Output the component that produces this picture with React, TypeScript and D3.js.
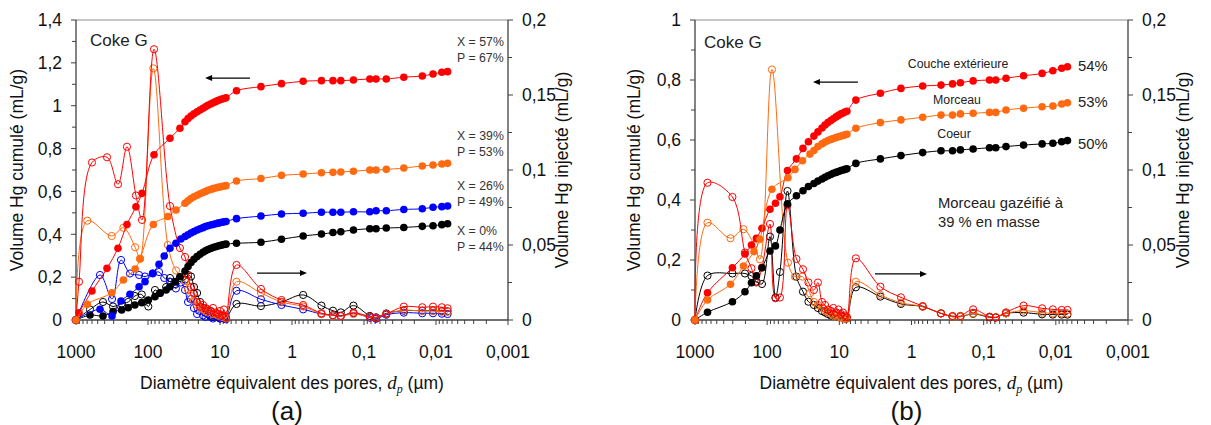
import React from 'react';
import * as d3 from 'd3';

const FONT = 'Arial, "Liberation Sans", Helvetica, sans-serif';
const SERIF = '"Times New Roman", "Liberation Serif", serif';

// ---------- axis ticks ----------
const xTickValues = [1000, 100, 10, 1, 0.1, 0.01, 0.001];
const xTickLabels = ['1000', '100', '10', '1', '0,1', '0,01', '0,001'];
const leftTicksA = [0, 0.2, 0.4, 0.6, 0.8, 1, 1.2, 1.4];
const leftLabelsA = ['0', '0,2', '0,4', '0,6', '0,8', '1', '1,2', '1,4'];
const leftTicksB = [0, 0.2, 0.4, 0.6, 0.8, 1];
const leftLabelsB = ['0', '0,2', '0,4', '0,6', '0,8', '1'];
const rightTicks = [0, 0.05, 0.1, 0.15, 0.2];
const rightLabels = ['0', '0,05', '0,1', '0,15', '0,2'];

// ---------- shared pore diameters (µm) ----------
const clusterA = [30.6, 27.8, 25.3, 23.0, 20.8, 18.9, 17.2, 15.9, 14.7, 13.5, 12.5, 11.5, 10.7, 10.0, 9.4, 8.8, 8.25];
const clusterB = [22.5, 19.8, 17.4, 15.8, 14.4, 13.1, 12.1, 11.1, 10.3, 9.5, 8.9, 8.36, 7.85];
const tailD = [5.9, 2.7, 1.4, 0.7, 0.39, 0.27, 0.21, 0.14, 0.083, 0.068, 0.049, 0.028, 0.0155, 0.011, 0.0083, 0.0069];

// ---------- panel (a) ----------
const redA_d = [1000, 908, 600, 371, 261, 196, 147, 121, 82.5, 49.5, 36.0];
const redA_cum = [0, 0.034, 0.135, 0.241, 0.335, 0.446, 0.528, 0.591, 0.771, 0.848, 0.895,
  0.925, 0.94, 0.952, 0.962, 0.972, 0.98, 0.988, 0.995, 1.002, 1.008, 1.014, 1.019, 1.024, 1.028, 1.031, 1.034, 1.037,
  1.07, 1.089, 1.103, 1.114, 1.117, 1.117, 1.117, 1.12, 1.125, 1.125, 1.125, 1.133, 1.139, 1.148, 1.156, 1.159];
const redA_inj = [0, 0.0255, 0.105, 0.1085, 0.0905, 0.1155, 0.083, 0.0667, 0.1805, 0.076, 0.048,
  0.042, 0.030, 0.022, 0.018, 0.012, 0.009, 0.010, 0.008, 0.007, 0.006, 0.008, 0.005, 0.004, 0.006, 0.003, 0.007, 0.002,
  0.0367, 0.0207, 0.0133, 0.010, 0.0045, 0.0033, 0.0027, 0.0049, 0.0022, 0.0013, 0.004, 0.0089, 0.0085, 0.0089, 0.0085, 0.0078];

const orangeA_d = [1000, 697, 319, 220, 151, 129, 84.4, 53, 40.8];
const orangeA_cum = [0, 0.073, 0.127, 0.187, 0.238, 0.285, 0.446, 0.483, 0.513,
  0.545, 0.556, 0.567, 0.575, 0.582, 0.589, 0.595, 0.6, 0.605, 0.609, 0.613, 0.616, 0.619, 0.621, 0.623, 0.625, 0.627,
  0.649, 0.66, 0.675, 0.681, 0.687, 0.689, 0.691, 0.694, 0.70, 0.70, 0.703, 0.709, 0.719, 0.723, 0.728, 0.731];
const orangeA_inj = [0, 0.0662, 0.056, 0.0615, 0.0485, 0.041, 0.1678, 0.05, 0.033,
  0.026, 0.02, 0.016, 0.013, 0.01, 0.008, 0.007, 0.006, 0.005, 0.006, 0.004, 0.004, 0.003, 0.004, 0.002, 0.003, 0.001,
  0.0255, 0.018, 0.012, 0.009, 0.004, 0.003, 0.0025, 0.004, 0.002, 0.0015, 0.004, 0.0065, 0.006, 0.006, 0.0055, 0.0055];

const blueA_d = [1000, 464, 316, 237, 178, 133, 110, 86, 70.3, 59.5, 49.5, 41, 35];
const blueA_cum = [0, 0.05, 0.019, 0.089, 0.12, 0.155, 0.179, 0.218, 0.26, 0.299, 0.335, 0.358, 0.378,
  0.39, 0.398, 0.406, 0.413, 0.42, 0.426, 0.431, 0.436, 0.44, 0.443, 0.446, 0.449, 0.452, 0.454, 0.456, 0.458, 0.46,
  0.473, 0.485, 0.495, 0.498, 0.503, 0.503, 0.503, 0.505, 0.505, 0.51, 0.51, 0.516, 0.519, 0.526, 0.529, 0.532];
const blueA_inj = [0, 0.03, 0.014, 0.04, 0.031, 0.03, 0.029, 0.031, 0.032, 0.028, 0.0255, 0.021, 0.025,
  0.02, 0.012, 0.014, 0.008, 0.004, 0.006, 0.003, 0.002, 0.004, 0.002, 0.001, 0.003, 0.002, 0.001, 0.002, 0.001, 0.0005,
  0.0195, 0.0138, 0.01, 0.0071, 0.004, 0.0031, 0.0027, 0.0045, 0.0015, 0.0008, 0.0035, 0.0049, 0.0045, 0.0045, 0.0042, 0.004];

const blackA_d = [1000, 639, 422, 306, 232, 188, 152, 122, 99, 80, 68, 56, 49.5, 42, 36];
const blackA_cum = [0, 0.023, 0.019, 0.039, 0.047, 0.057, 0.07, 0.081, 0.093, 0.109, 0.125, 0.14, 0.155, 0.179, 0.202,
  0.228, 0.25, 0.268, 0.283, 0.296, 0.307, 0.316, 0.323, 0.329, 0.334, 0.338, 0.342, 0.345, 0.348, 0.35, 0.352, 0.354,
  0.358, 0.363, 0.377, 0.392, 0.401, 0.408, 0.412, 0.42, 0.426, 0.426, 0.429, 0.432, 0.437, 0.44, 0.445, 0.449];
const blackA_inj = [0, 0.007, 0.012, 0.009, 0.011, 0.012, 0.016, 0.017, 0.009, 0.02, 0.018, 0.022, 0.028, 0.024, 0.028,
  0.027, 0.03, 0.029, 0.022, 0.018, 0.012, 0.008, 0.005, 0.006, 0.003, 0.002, 0.003, 0.002, 0.001, 0.002, 0.001, 0.001,
  0.0107, 0.0093, 0.012, 0.0167, 0.0096, 0.0062, 0.0051, 0.0096, 0.0027, 0.0018, 0.0044, 0.0062, 0.0062, 0.0062, 0.0058, 0.0058];

// ---------- panel (b) ----------
const outerB_d = [1000, 671, 303, 203, 165, 141, 118, 91.4, 76.7, 66.5, 52.3, 39.3, 31.9, 26.8];
const outerB_cum = [0, 0.091, 0.174, 0.22, 0.25, 0.272, 0.306, 0.369, 0.389, 0.411, 0.498, 0.537, 0.572, 0.594,
  0.613, 0.627, 0.64, 0.65, 0.658, 0.665, 0.671, 0.677, 0.682, 0.687, 0.69, 0.693, 0.696,
  0.733, 0.756, 0.772, 0.78, 0.783, 0.787, 0.791, 0.797, 0.80, 0.80, 0.806, 0.814, 0.822, 0.831, 0.839, 0.844];
const outerB_inj = [0, 0.0915, 0.082, 0.045, 0.0345, 0.025, 0.035, 0.064, 0.0145, 0.015, 0.0767, 0.0407, 0.0338, 0.025,
  0.02, 0.025, 0.012, 0.01, 0.007, 0.006, 0.008, 0.005, 0.007, 0.004, 0.005, 0.003, 0.002,
  0.0411, 0.0222, 0.0151, 0.0093, 0.0044, 0.0027, 0.0027, 0.0071, 0.0022, 0.0018, 0.0051, 0.0096, 0.0078, 0.0071, 0.0067, 0.0067];

const coreB_d = [1000, 671, 303, 203, 165, 141, 118, 91.4, 76.7, 66.5, 52.3, 39.3, 31.9, 26.8];
const coreB_cum = [0, 0.026, 0.061, 0.094, 0.124, 0.147, 0.174, 0.23, 0.247, 0.30, 0.387, 0.414, 0.431, 0.445,
  0.455, 0.463, 0.47, 0.476, 0.481, 0.485, 0.489, 0.492, 0.495, 0.498, 0.5, 0.502, 0.504,
  0.522, 0.537, 0.548, 0.558, 0.564, 0.564, 0.567, 0.57, 0.574, 0.574, 0.578, 0.583, 0.587, 0.589, 0.594, 0.598];
const coreB_inj = [0, 0.0296, 0.031, 0.031, 0.0293, 0.0256, 0.024, 0.0556, 0.015, 0.032, 0.086, 0.0289, 0.0189, 0.0122,
  0.01, 0.008, 0.006, 0.005, 0.004, 0.003, 0.004, 0.003, 0.002, 0.003, 0.002, 0.001, 0.001,
  0.0218, 0.0156, 0.0107, 0.0089, 0.0044, 0.0022, 0.0022, 0.0041, 0.0018, 0.0016, 0.0044, 0.0049, 0.0038, 0.0036, 0.0036, 0.0036];

const pieceB_d = [1000, 671, 322, 213, 152, 126, 85.9, 51.5, 41.2, 32.4, 25.5];
const pieceB_cum = [0, 0.067, 0.119, 0.18, 0.228, 0.269, 0.436, 0.474, 0.502, 0.531, 0.553,
  0.565, 0.578, 0.587, 0.593, 0.598, 0.602, 0.605, 0.608, 0.611, 0.613, 0.615, 0.617, 0.619,
  0.639, 0.658, 0.667, 0.676, 0.683, 0.683, 0.687, 0.689, 0.692, 0.692, 0.70, 0.706, 0.711, 0.713, 0.72, 0.724];
const pieceB_inj = [0, 0.0649, 0.0545, 0.0605, 0.05, 0.0405, 0.167, 0.0382, 0.0289, 0.0289, 0.0178,
  0.012, 0.01, 0.008, 0.006, 0.005, 0.004, 0.003, 0.003, 0.002, 0.002, 0.001, 0.001, 0.001,
  0.0255, 0.0167, 0.0115, 0.0089, 0.0044, 0.0022, 0.0022, 0.0044, 0.0022, 0.0018, 0.0044, 0.0062, 0.0049, 0.0044, 0.0044, 0.0044];

const RED = '#FF0000';
const ORANGE = '#FF6A10';
const BLUE = '#0000FF';
const BLACK = '#000000';

type Series = { color: string; d: number[]; cum: number[]; inj: number[] };

const seriesA: Series[] = [
  { color: BLACK, d: blackA_d.concat(clusterA, tailD), cum: blackA_cum, inj: blackA_inj },
  { color: BLUE, d: blueA_d.concat(clusterA, tailD), cum: blueA_cum, inj: blueA_inj },
  { color: ORANGE, d: orangeA_d.concat(clusterA, tailD), cum: orangeA_cum, inj: orangeA_inj },
  { color: RED, d: redA_d.concat(clusterA, tailD), cum: redA_cum, inj: redA_inj },
];
const seriesB: Series[] = [
  { color: BLACK, d: coreB_d.concat(clusterB, tailD), cum: coreB_cum, inj: coreB_inj },
  { color: ORANGE, d: pieceB_d.concat(clusterB, tailD), cum: pieceB_cum, inj: pieceB_inj },
  { color: RED, d: outerB_d.concat(clusterB, tailD), cum: outerB_cum, inj: outerB_inj },
];
// order for filled markers (orange on top at origin)
const filledOrderA = [0, 1, 3, 2];
const filledOrderB = [0, 2, 1];

const TOP = 20;
const BOTTOM = 320;

type PanelProps = {
  left: number; right: number; yMax: number; leftTicks: number[]; leftLabels: string[];
  series: Series[]; filledOrder: number[];
  children?: (x: d3.ScaleLogarithmic<number, number>, yL: d3.ScaleLinear<number, number>, yR: d3.ScaleLinear<number, number>) => React.ReactNode;
  letter: string; leftTitleX: number; rightTitleX: number;
};

function pts(s: Series, key: 'cum' | 'inj') {
  const n = Math.min(s.d.length, s[key].length);
  const out: [number, number][] = [];
  for (let i = 0; i < n; i++) out.push([s.d[i], s[key][i]]);
  return out;
}

function Arrow({ x1, x2, y }: { x1: number; x2: number; y: number }) {
  const dir = Math.sign(x2 - x1);
  const hx = x2;
  return (
    <g>
      <line x1={x1} x2={x2 - dir * 5} y1={y} y2={y} stroke="#000" strokeWidth={1.3} />
      <path d={`M${hx},${y} L${hx - dir * 7},${y - 3} L${hx - dir * 7},${y + 3} Z`} fill="#000" />
    </g>
  );
}

function Panel(p: PanelProps) {
  const x = d3.scaleLog().domain([1000, 0.001]).range([p.left, p.right]);
  const yL = d3.scaleLinear().domain([0, p.yMax]).range([BOTTOM, TOP]);
  const yR = d3.scaleLinear().domain([0, 0.2]).range([BOTTOM, TOP]);
  const lineL = d3.line<[number, number]>().x(d => x(d[0])).y(d => yL(d[1])).curve(d3.curveCatmullRom.alpha(0.5));
  const lineR = d3.line<[number, number]>().x(d => x(d[0])).y(d => yR(d[1])).curve(d3.curveCatmullRom.alpha(0.5));

  const minorX: number[] = [];
  for (let e = -3; e < 3; e++) for (let m = 2; m <= 9; m++) minorX.push(m * Math.pow(10, e));
  const leftMinor = d3.range(0.1, p.yMax, 0.2);
  const rightMinor = [0.025, 0.075, 0.125, 0.175];
  const axisColor = '#404040';
  const cx = (p.left + p.right) / 2;

  return (
    <g fontFamily={FONT}>
      {/* frame */}
      <line x1={p.left} x2={p.right} y1={TOP} y2={TOP} stroke="#8c8c8c" strokeWidth={1} />
      <line x1={p.left} x2={p.left} y1={TOP} y2={BOTTOM} stroke={axisColor} strokeWidth={1.3} />
      <line x1={p.right} x2={p.right} y1={TOP} y2={BOTTOM} stroke={axisColor} strokeWidth={1.3} />
      <line x1={p.left} x2={p.right} y1={BOTTOM} y2={BOTTOM} stroke={axisColor} strokeWidth={1.3} />
      {/* left ticks */}
      {p.leftTicks.map((t, i) => (
        <g key={'l' + i}>
          <line x1={p.left - 5} x2={p.left} y1={yL(t)} y2={yL(t)} stroke={axisColor} />
          <text x={p.left - 14} y={yL(t)} dy="0.36em" textAnchor="end" fontSize={17.5} fill="#111">{p.leftLabels[i]}</text>
        </g>
      ))}
      {leftMinor.map((t, i) => (
        <line key={'lm' + i} x1={p.left - 4} x2={p.left} y1={yL(t)} y2={yL(t)} stroke={axisColor} />
      ))}
      {/* right ticks */}
      {rightTicks.map((t, i) => (
        <g key={'r' + i}>
          <line x1={p.right} x2={p.right + 5} y1={yR(t)} y2={yR(t)} stroke={axisColor} />
          <text x={p.right + 14} y={yR(t)} dy="0.36em" textAnchor="start" fontSize={17.5} fill="#111">{rightLabels[i]}</text>
        </g>
      ))}
      {rightMinor.map((t, i) => (
        <line key={'rm' + i} x1={p.right} x2={p.right + 4} y1={yR(t)} y2={yR(t)} stroke={axisColor} />
      ))}
      {/* x ticks */}
      {xTickValues.map((t, i) => (
        <g key={'x' + i}>
          <line x1={x(t)} x2={x(t)} y1={BOTTOM} y2={BOTTOM + 5} stroke={axisColor} />
          <text x={x(t)} y={BOTTOM + 38} textAnchor="middle" fontSize={17.5} fill="#111">{xTickLabels[i]}</text>
        </g>
      ))}
      {minorX.map((t, i) => (
        <line key={'xm' + i} x1={x(t)} x2={x(t)} y1={BOTTOM} y2={BOTTOM + 4} stroke={axisColor} />
      ))}
      {/* titles */}
      <text transform={`translate(${p.leftTitleX},${(TOP + BOTTOM) / 2}) rotate(-90)`} textAnchor="middle" fontSize={17.5} fill="#111">Volume Hg cumulé (mL/g)</text>
      <text transform={`translate(${p.rightTitleX},${(TOP + BOTTOM) / 2}) rotate(-90)`} textAnchor="middle" fontSize={17.5} fill="#111">Volume Hg injecté (mL/g)</text>
      <text x={cx} y={BOTTOM + 69} textAnchor="middle" fontSize={17.5} fill="#111">
        Diamètre équivalent des pores,{' '}
        <tspan fontFamily={SERIF} fontStyle="italic" fontSize={19}>d</tspan>
        <tspan fontFamily={SERIF} fontStyle="italic" fontSize={12} dy={4}>p</tspan>
        <tspan dy={-4}>{'  '}(µm)</tspan>
      </text>
      <text x={cx - 5} y={BOTTOM + 100} textAnchor="middle" fontSize={26} fill="#111">{p.letter}</text>

      {/* open series (injected, right axis) */}
      {p.series.map((s, i) => {
        const data = pts(s, 'inj');
        return (
          <g key={'o' + i}>
            <path d={lineR(data) || ''} fill="none" stroke={s.color} strokeWidth={1} />
            {data.map((d, j) => (
              <circle key={j} cx={x(d[0])} cy={yR(d[1])} r={3.6} fill="none" stroke={s.color} strokeWidth={1} />
            ))}
          </g>
        );
      })}
      {/* filled series (cumulative, left axis) */}
      {p.filledOrder.map(k => {
        const s = p.series[k];
        const data = pts(s, 'cum');
        return (
          <g key={'f' + k}>
            <path d={lineL(data) || ''} fill="none" stroke={s.color} strokeWidth={1} />
            {data.map((d, j) => (
              <circle key={j} cx={x(d[0])} cy={yL(d[1])} r={3.8} fill={s.color} />
            ))}
          </g>
        );
      })}
      {p.children && p.children(x, yL, yR)}
    </g>
  );
}

export default function App() {
  return (
    <svg width={1211} height={425} viewBox="0 0 1211 425"
      style={{ position: 'absolute', left: 0, top: 0, background: '#fff' }}>
      <rect x={0} y={0} width={1211} height={425} fill="#fff" />
      <Panel left={76} right={508} yMax={1.4} leftTicks={leftTicksA} leftLabels={leftLabelsA}
        series={seriesA} filledOrder={filledOrderA} letter="(a)" leftTitleX={23} rightTitleX={568}>
        {(x, yL, yR) => (
          <g fontFamily={FONT} fill="#222">
            <text x={90} y={46} fontSize={17}>Coke G</text>
            <Arrow x1={x(3.83)} x2={x(16.1)} y={yL(1.129)} />
            <Arrow x1={x(3.06)} x2={x(0.62)} y={yR(0.0313)} />
            <g fontSize={12.3} fill="#333">
              <text x={457} y={46}>X = 57%</text>
              <text x={457} y={62}>P = 67%</text>
              <text x={457} y={140}>X = 39%</text>
              <text x={457} y={156}>P = 53%</text>
              <text x={457} y={190}>X = 26%</text>
              <text x={457} y={206}>P = 49%</text>
              <text x={457} y={235}>X = 0%</text>
              <text x={457} y={251}>P = 44%</text>
            </g>
          </g>
        )}
      </Panel>
      <Panel left={695} right={1128} yMax={1} leftTicks={leftTicksB} leftLabels={leftLabelsB}
        series={seriesB} filledOrder={filledOrderB} letter="(b)" leftTitleX={640} rightTitleX={1189}>
        {(x, yL, yR) => (
          <g fontFamily={FONT} fill="#222">
            <text x={704} y={48} fontSize={17}>Coke G</text>
            <Arrow x1={x(5.53)} x2={x(23.2)} y={yL(0.793)} />
            <Arrow x1={x(3.21)} x2={x(0.61)} y={yR(0.0307)} />
            <g fontSize={12.3} fill="#222" textAnchor="middle">
              <text x={958} y={68}>Couche extérieure</text>
              <text x={957} y={104}>Morceau</text>
              <text x={954} y={138}>Coeur</text>
            </g>
            <g fontSize={14.8} fill="#222">
              <text x={1078} y={71}>54%</text>
              <text x={1078} y={107}>53%</text>
              <text x={1078} y={149}>50%</text>
              <text x={938} y={208}>Morceau gazéifié à</text>
              <text x={938} y={227}>39 % en masse</text>
            </g>
          </g>
        )}
      </Panel>
    </svg>
  );
}
